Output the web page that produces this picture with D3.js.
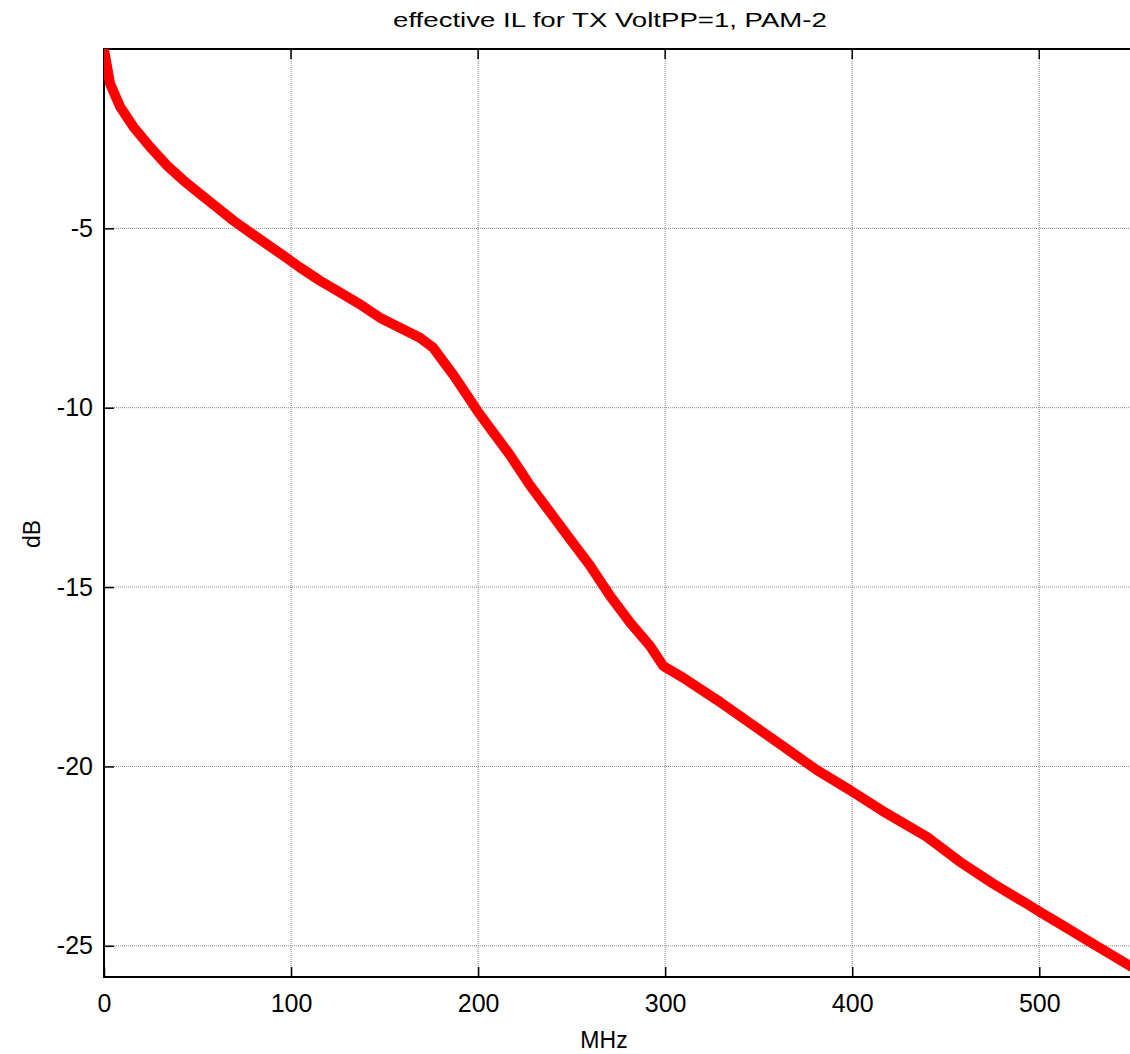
<!DOCTYPE html>
<html lang="en">
  <head>
    <meta charset="utf-8">
    <title>effective IL</title>
    <script src="https://d3js.org/d3.v7.min.js"></script>
    <style>
      body { margin: 0; background: #fff; }
      text { font-family: "Liberation Sans", Arial, sans-serif; fill: #000; }
    </style>
  </head>
  <body>
    <script>
    // values
    const freqMHz = [0, 0.5, 3.2, 8.6, 15.7, 24.6, 33.5, 42.4, 51.3, 60.2, 69.1, 78.0, 87.0, 95.9,
      104.8, 115.5, 126.2, 136.9, 147.5, 158.2, 168.9, 176.0, 181.4, 186.7, 193.9, 199.2,
      206.4, 217.0, 227.7, 238.4, 249.1, 259.8, 270.5, 281.2, 291.9, 299.0, 309.7, 327.5,
      345.3, 363.1, 381.0, 398.8, 418.4, 439.8, 457.6, 475.4, 493.3, 500.4, 511.1, 528.9, 546.8, 549]
    const ilDb = [-0.05, -0.16, -0.96, -1.61, -2.17, -2.73, -3.24, -3.66, -4.04, -4.41, -4.78, -5.11, -5.44, -5.76,
      -6.09, -6.46, -6.79, -7.12, -7.49, -7.77, -8.05, -8.33, -8.71, -9.08, -9.64, -10.06,
      -10.57, -11.32, -12.16, -12.91, -13.66, -14.40, -15.24, -15.99, -16.64, -17.20, -17.53, -18.14,
      -18.79, -19.44, -20.10, -20.66, -21.31, -21.96, -22.66, -23.27, -23.83, -24.06, -24.39, -24.95, -25.51, -25.58]
    const xTicks = [0, 100, 200, 300, 400, 500]
    const yTicks = [-5, -10, -15, -20, -25]

    const m = { left: 104, right: 1130, top: 49, bottom: 977 }

    const svg = d3.select('body').append('svg')
        .attr('width', 1130)
        .attr('height', 1054)

    const x = d3.scaleLinear().domain([0, 548.5]).range([m.left, m.right])
    const y = d3.scaleLinear().domain([0, -25.87]).range([m.top, m.bottom])

    // grid
    svg.append('g').selectAll('line').data(xTicks.filter(d => d > 0)).join('line')
        .attr('x1', d => x(d)).attr('x2', d => x(d))
        .attr('y1', m.top).attr('y2', m.bottom)
        .attr('stroke', '#888').attr('stroke-width', 1).attr('stroke-dasharray', '1,1')
    svg.append('g').selectAll('line').data(yTicks).join('line')
        .attr('x1', m.left).attr('x2', m.right)
        .attr('y1', d => y(d)).attr('y2', d => y(d))
        .attr('stroke', '#888').attr('stroke-width', 1).attr('stroke-dasharray', '1,1')

    // axes (ticks inward)
    const fmt = d => String(d)
    const xAxis = d3.axisBottom(x).tickValues(xTicks).tickFormat(fmt).tickSize(-10).tickPadding(17)
    const yAxis = d3.axisLeft(y).tickValues(yTicks).tickFormat(fmt).tickSize(-10).tickPadding(11)

    const gx = svg.append('g').attr('transform', `translate(0,${m.bottom})`).call(xAxis)
    const gy = svg.append('g').attr('transform', `translate(${m.left},0)`).call(yAxis)
    gx.select('.domain').remove()
    gy.select('.domain').remove()
    gx.selectAll('text').style('font-size', '25px')
    gy.selectAll('text').style('font-size', '25px')
    gx.selectAll('.tick line').attr('stroke', '#000').attr('stroke-width', 1.5)
    gy.selectAll('.tick line').attr('stroke', '#000').attr('stroke-width', 1.5)

    // top ticks
    svg.append('g').selectAll('line').data(xTicks.filter(d => d > 0)).join('line')
        .attr('x1', d => x(d)).attr('x2', d => x(d))
        .attr('y1', m.top).attr('y2', m.top + 10)
        .attr('stroke', '#000').attr('stroke-width', 1.5)

    // box lines: left, top, bottom
    svg.append('path')
        .attr('d', `M${m.right},${m.top}H${m.left}V${m.bottom}H${m.right}`)
        .attr('fill', 'none').attr('stroke', '#000').attr('stroke-width', 2)

    // curve
    const pts = freqMHz.map((f, i) => [f, ilDb[i]])
    svg.append('defs').append('clipPath').attr('id', 'clip')
        .append('rect').attr('x', m.left).attr('y', m.top)
        .attr('width', m.right - m.left).attr('height', m.bottom - m.top)
    svg.append('path')
        .datum(pts)
        .attr('clip-path', 'url(#clip)')
        .attr('d', d3.line().x(d => x(d[0])).y(d => y(d[1])))
        .attr('fill', 'none')
        .attr('stroke', '#ff0000')
        .attr('stroke-width', 10)
        .attr('stroke-linejoin', 'round')
        .attr('stroke-linecap', 'round')

    // labels
    // title is drawn wide in the original, so stretch it to the same width
    const title = svg.append('text')
        .attr('text-anchor', 'middle').style('font-size', '21px')
        .text('effective IL for TX VoltPP=1, PAM-2')
    const tw = title.node().getComputedTextLength()
    title.attr('transform', `translate(610,27) scale(${434 / tw},1)`)

    svg.append('text').attr('x', 604).attr('y', 1048)
        .attr('text-anchor', 'middle').style('font-size', '23px')
        .text('MHz')
    svg.append('text')
        .attr('transform', 'translate(40,534) rotate(-90)')
        .attr('text-anchor', 'middle').style('font-size', '23px')
        .text('dB')
    </script>
  </body>
</html>
